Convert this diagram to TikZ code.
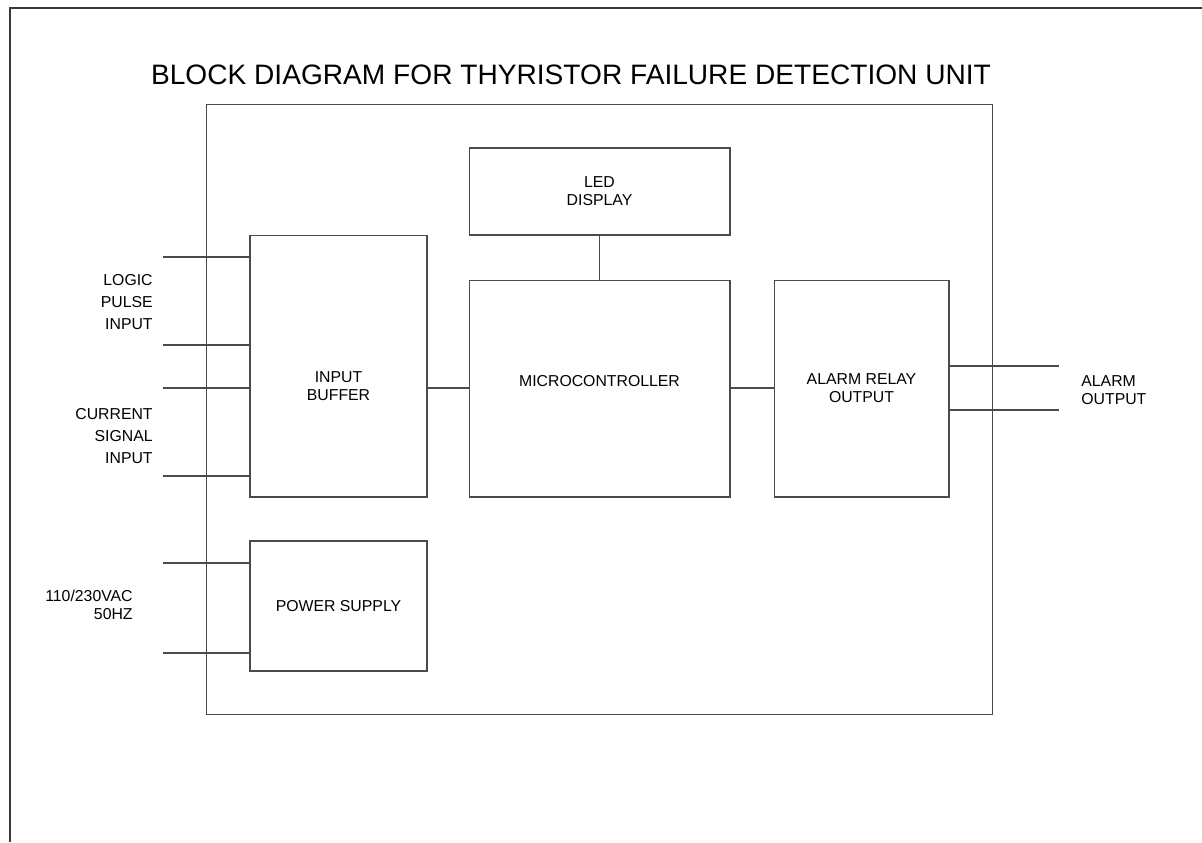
\documentclass[tikz,border=0pt]{standalone}
\usepackage{fontspec}
\setmainfont{Liberation Sans}
\usetikzlibrary{positioning}
\definecolor{frame}{HTML}{3A3A3A}
\definecolor{wire}{HTML}{4A4A4A}

\begin{document}
\begin{tikzpicture}[
  x=0.02cm,y=-0.02cm,
  font=\fontsize{9}{12.5}\selectfont,
  block/.style={draw=wire,line width=0.6pt,inner sep=0pt,align=center,font=\fontsize{9}{10.2}\selectfont},
  lbl/.style={inner sep=0pt,align=right},
  wireline/.style={wire,line width=0.6pt},
]
\useasboundingbox (0,0) rectangle (1202,842);
% sheet frame
\draw[frame,line width=1pt] (1202,8) -- (10,8) -- (10,842);

\node[font=\fontsize{16}{18}\selectfont,inner sep=0pt] (title) at (571,75)
  {BLOCK DIAGRAM FOR THYRISTOR FAILURE DETECTION UNIT};

% enclosure
\node[block,minimum width=15.74cm,minimum height=12.22cm] (unit) at (599.5,409.5) {};

% blocks
\node[block,minimum width=5.22cm,minimum height=1.74cm] (led) at (599.5,191.5) {LED\\DISPLAY};
\node[block,minimum width=3.54cm,minimum height=5.24cm] (buf) at (338.5,366) {};
\node[inner sep=0pt,align=center,font=\fontsize{9}{10.2}\selectfont] (buflbl) at (338.5,386) {INPUT\\BUFFER};
\node[block,minimum width=5.22cm,minimum height=4.34cm] (mcu) at (599.5,388.5) {};
\node[inner sep=0pt] (mculbl) at (599.5,381) {MICROCONTROLLER};
\node[block,minimum width=3.5cm,minimum height=4.34cm] (relay) at (861.5,388.5) {ALARM RELAY\\OUTPUT};
\node[block,minimum width=3.54cm,minimum height=2.6cm] (psu) at (338.5,606) {POWER SUPPLY};

% internal links
\draw[wireline] (buf.east |- 0,388) -- (mcu.west |- 0,388);
\draw[wireline] (mcu.east |- 0,388) -- (relay.west |- 0,388);
\draw[wireline] (led.south) -- (mcu.north);

% input and output terminals
\foreach \n/\yy in {a/257,b/345,c/388,d/476}{
  \coordinate (in\n) at (163,\yy);
  \draw[wireline] (in\n) -- (buf.west |- in\n);
}
\foreach \n/\yy in {a/563,b/653}{
  \coordinate (ac\n) at (163,\yy);
  \draw[wireline] (ac\n) -- (psu.west |- ac\n);
}
\foreach \n/\yy in {a/366,b/410}{
  \coordinate (out\n) at (1059,\yy);
  \draw[wireline] (relay.east |- out\n) -- (out\n);
}

% terminal labels
\node[lbl,anchor=east] (logic) at (153,302) {LOGIC\\PULSE\\INPUT};
\node[lbl,anchor=east] (cur) at (153,436) {CURRENT\\SIGNAL\\INPUT};
\node[lbl,anchor=east,font=\fontsize{9}{10.2}\selectfont] (mains) at (133,605) {110/230VAC\\50HZ};
\node[inner sep=0pt,align=left,anchor=west,font=\fontsize{9}{10.2}\selectfont] (alarm) at (1081,390) {ALARM\\OUTPUT};
\end{tikzpicture}
\end{document}
